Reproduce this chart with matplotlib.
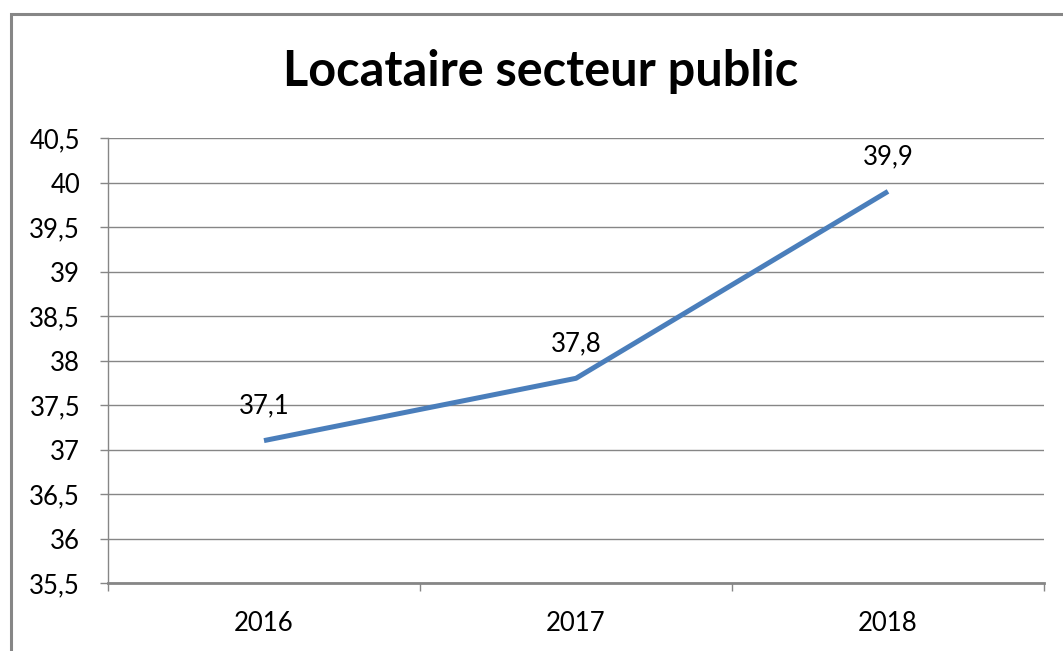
import matplotlib
matplotlib.use("Agg")
import matplotlib.pyplot as plt
from matplotlib.patches import Rectangle
from matplotlib.ticker import FixedLocator, FuncFormatter

years = ["2016", "2017", "2018"]
values = [37.1, 37.8, 39.9]
y_ticks = [35.5, 36, 36.5, 37, 37.5, 38, 38.5, 39, 39.5, 40, 40.5]
title = "Locataire secteur public"

W, H = 1063, 651
plt.rcParams["font.family"] = ["Lato", "DejaVu Sans"]

fig = plt.figure(figsize=(W / 100, H / 100), dpi=100)
fig.patches.append(Rectangle((11 / W, -0.1), 1.2, 1.1 - 14 / H, transform=fig.transFigure,
                             fill=False, edgecolor="#868686", linewidth=2.2))

ax = fig.add_axes([108 / W, 1 - 583 / H, (1044 - 108) / W, (583 - 138) / H])

x = list(range(len(years)))
ax.plot(x, values, color="#4A7EBB", linewidth=3.6, solid_capstyle="butt")
for xi, v in zip(x, values):
    ax.annotate(f"{v:.1f}".replace(".", ","), (xi, v), xytext=(0, 25), textcoords="offset points",
                ha="center", va="center", fontsize=18.5, color="#000000")

ax.set_xlim(-0.5, len(years) - 0.5)
ax.set_ylim(35.5, 40.5)
ax.yaxis.set_major_locator(FixedLocator(y_ticks))
ax.yaxis.set_major_formatter(FuncFormatter(lambda v, _: f"{v:g}".replace(".", ",")))
ax.grid(axis="y", color="#868686", linewidth=1)
ax.set_axisbelow(True)

ax.set_xticks(x)
ax.set_xticklabels(years)
ax.set_xticks([i - 0.5 for i in range(len(years) + 1)], minor=True)
ax.tick_params(axis="x", which="major", length=0, pad=20.5, labelsize=18.5)
ax.tick_params(axis="x", which="minor", length=6, direction="out", color="#868686", width=1)
ax.tick_params(axis="y", length=6, color="#868686", width=1, labelsize=18.5, pad=14)

for side in ("top", "right"):
    ax.spines[side].set_visible(False)
ax.spines["left"].set_color("#868686")
ax.spines["bottom"].set_color("#868686")
ax.spines["bottom"].set_linewidth(2)
ax.spines["left"].set_linewidth(1)

fig.text(541 / W, 1 - 72 / H, title, ha="center", va="center", fontsize=35, fontweight="bold")

fig.savefig("out.png", dpi=100)
